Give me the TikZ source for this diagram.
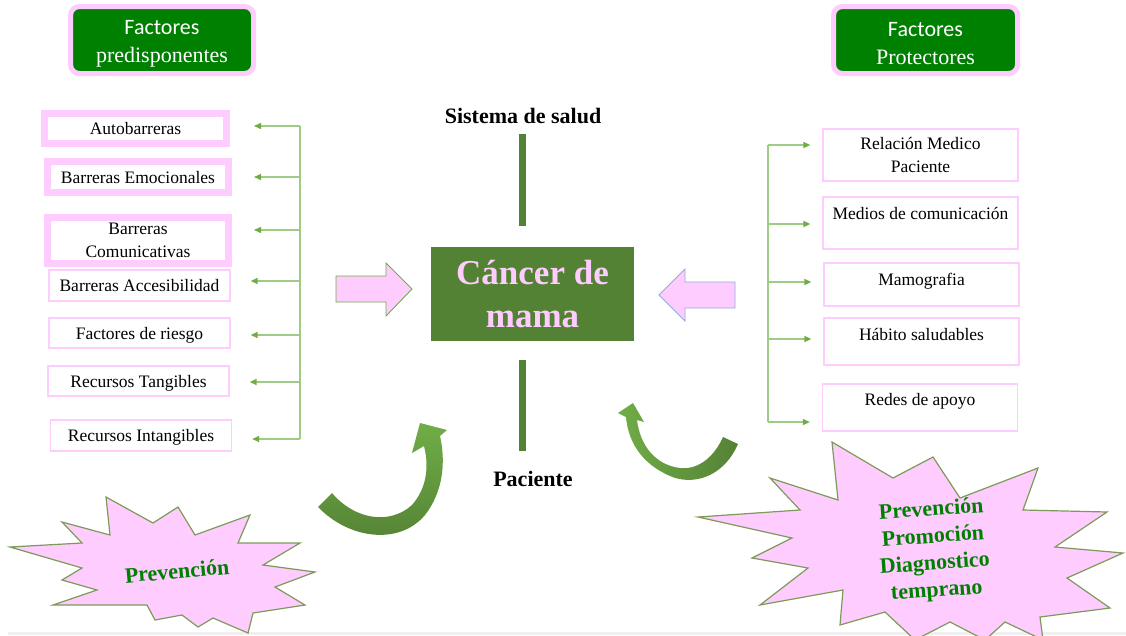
\documentclass[tikz,border=0pt]{standalone}
\usepackage{fontspec}
\setmainfont{Liberation Serif}
\newfontfamily\carlito{Carlito}
\usetikzlibrary{arrows.meta}
\definecolor{pinkb}{HTML}{FFCCFF}
\definecolor{hdrgreen}{HTML}{008000}
\definecolor{dkgreen}{HTML}{548235}
\definecolor{midgreen}{HTML}{70AD47}
\definecolor{ltgreen}{HTML}{9FCC84}
\definecolor{stargreen}{HTML}{7E9A5A}
\definecolor{txtgreen}{HTML}{008000}
\definecolor{bluish}{HTML}{8FAADC}
\begin{document}
\begin{tikzpicture}[x=1pt,y=-1pt,
  hdr/.style={draw=pinkb, line width=5pt, fill=hdrgreen, rounded corners=9pt,
    minimum height=67pt, text=white, align=center, inner sep=0pt,
    font=\fontsize{22}{28}\selectfont},
  boxfont/.style={font=\fontsize{17.5}{23}\selectfont},
  thickbox/.style={boxfont, draw=pinkb, line width=7pt, fill=white, minimum width=181pt,
    inner sep=0pt, align=center},
  thinbox/.style={boxfont, draw=pinkb, line width=1.3pt, fill=white, minimum width=181pt,
    minimum height=30pt, inner sep=0pt, text height=12pt, text depth=0pt},
  rbox/.style={boxfont, draw=pinkb, line width=1.3pt, fill=white, minimum width=195pt,
    inner sep=0pt, text height=12pt},
  trunk/.style={draw=ltgreen, line width=1.4pt},
  harrow/.style={draw=ltgreen, line width=1.4pt, -{Triangle[length=7pt,width=6pt,color=midgreen]}},
  bold22/.style={font=\fontsize{22}{27}\selectfont\bfseries},
  starbody/.style={fill=pinkb, draw=stargreen, line width=1.2pt, line join=miter},
  startext/.style={text=txtgreen, font=\fontsize{22}{27}\selectfont\bfseries, align=center},
  blockarrow/.style={fill=pinkb, line width=0.9pt},
  bar/.style={fill=dkgreen}
]
\clip (0,0) rectangle (1126,635);
\fill[white] (0,0) rectangle (1126,635);
\fill[gray!12] (8,632) rectangle (1126,635);

% headers
\node[hdr, minimum width=183pt] (h1) at (162,40) {{\carlito Factores}\rule{0pt}{21pt}\\predisponentes};
\node[hdr, minimum width=184pt] (h2) at (925.5,40) {{\carlito Factores}\rule{0pt}{21pt}\\Protectores};

% left boxes
\node[thickbox, minimum width=182pt, minimum height=30pt, text height=12pt, text depth=0pt] (b1) at (135.5,128.5) {Autobarreras};
\node[thickbox, minimum height=31pt, text height=12pt, text depth=0pt] (b2) at (138,177) {Barreras Emocionales};
\node[thickbox, minimum height=46pt] (b3) at (138,240) {Barreras\\Comunicativas};
\node[thinbox, minimum height=31pt] (b4) at (139.5,285.5) {Barreras Accesibilidad};
\node[thinbox] (b5) at (139.5,333) {Factores de riesgo};
\node[thinbox] (b6) at (138.5,381) {Recursos Tangibles};
\node[thinbox, minimum height=31pt] (b7) at (141,435.5) {Recursos Intangibles};

% left bracket
\coordinate (lt1) at (300,126);
\coordinate (lt2) at (300,177);
\coordinate (lt3) at (300,230);
\coordinate (lt4) at (300,281);
\coordinate (lt5) at (300,335);
\coordinate (lt6) at (300,382);
\coordinate (lt7) at (300,439);
\draw[trunk] (lt1) -- (lt7);
\draw[harrow, shorten >=24pt] (lt1) -- (lt1 -| b1.east);
\draw[harrow, shorten >=22pt] (lt2) -- (lt2 -| b2.east);
\draw[harrow, shorten >=22pt] (lt3) -- (lt3 -| b3.east);
\foreach \i in {4,5,6,7} {\draw[harrow, shorten >=20pt] (lt\i) -- (lt\i -| b\i.east);}

% right boxes
\node[rbox, minimum height=52pt, align=center, text height=] (r1) at (920.5,155) {Relación Medico\\Paciente};
\node[rbox, minimum height=52pt, text depth=20pt] (r2) at (920.5,223) {Medios de comunicación};
\node[rbox, minimum height=43pt, text depth=11pt] (r3) at (921.5,284.5) {Mamografia};
\node[rbox, minimum height=47pt, text depth=15pt] (r4) at (921.5,341.5) {Hábito saludables};
\node[rbox, minimum height=47pt, text depth=17pt] (r5) at (920,407.5) {Redes de apoyo};

% right bracket
\coordinate (rt1) at (768,145);
\coordinate (rt2) at (768,224);
\coordinate (rt3) at (768,282);
\coordinate (rt4) at (768,339);
\coordinate (rt5) at (768,422);
\draw[trunk] (rt1) -- (rt5);
\foreach \i in {1,...,5} {\draw[harrow, shorten >=12pt] (rt\i) -- (rt\i -| r\i.west);}

% centre
\node[bold22] (sis) at (523,116) {Sistema de salud};
\node[bold22] (pac) at (533,479) {Paciente};
\node[fill=dkgreen, minimum width=203pt, minimum height=94pt, inner sep=0pt,
  text=pinkb, align=center, font=\fontsize{35}{43}\selectfont\bfseries] (cm) at (532.5,294) {Cáncer de\\mama};
\fill[bar] (519,134) rectangle (526,226);
\fill[bar] (519,360) rectangle (526,451);

% block arrows
\draw[blockarrow, draw=midgreen] (336,276) -- (386,276) -- (386,263) -- (412,289)
  -- (386,316) -- (386,302) -- (336,302) -- cycle;
\draw[blockarrow, draw=bluish] (735,282) -- (685,282) -- (685,269) -- (659,295)
  -- (685,321) -- (685,308) -- (735,308) -- cycle;

% curved arrows
\shade[top color=midgreen, bottom color=dkgreen]
  (318,507) .. controls (350,540) and (400,545) .. (425,515)
  .. controls (443,492) and (446,462) .. (440,436)
  -- (447,430) -- (420,423) -- (412,453) -- (424,446)
  .. controls (430,470) and (425,490) .. (412,505)
  .. controls (390,525) and (355,520) .. (332,493) -- cycle;
\shade[left color=midgreen, right color=dkgreen]
  (738,444) .. controls (722,480) and (690,485) .. (670,476)
  .. controls (640,463) and (628,440) .. (626,417)
  -- (618,413) -- (633,403) -- (644,422) -- (637,420)
  .. controls (640,445) and (655,465) .. (680,468)
  .. controls (700,470) and (715,455) .. (723,437) -- cycle;

% starbursts
\draw[starbody] (10,547) -- (82,543) -- (62,522) -- (110,535) -- (106,497) -- (153,523)
  -- (178,507) -- (195,535) -- (250,515) -- (238,543) -- (300,543) -- (263,565)
  -- (315,572) -- (275,587) -- (305,605) -- (253,613) -- (248,633) -- (213,618)
  -- (198,627) -- (182,615) -- (155,620) -- (147,605) -- (53,605) -- (97,590)
  -- (62,580) -- (82,568) -- cycle;
\node[startext, rotate=5] (p1) at (177,571) {Prevención};

\draw[starbody] (698,517) -- (800,510) -- (770,478) -- (838,500) -- (832,442) -- (893,478)
  -- (933,457) -- (960,498) -- (1038,468) -- (1023,510) -- (1107,512) -- (1055,547)
  -- (1123,553) -- (1067,578) -- (1110,608) -- (1040,617) -- (1043,640) -- (1005,622)
  -- (985,640) -- (950,622) -- (915,640) -- (885,612) -- (840,625) -- (843,590)
  -- (760,605) -- (808,568) -- (752,558) -- (792,538) -- cycle;
\node[startext, rotate=4] (p2) at (934,551) {Prevención\\Promoción\\Diagnostico\\temprano};
\end{tikzpicture}
\end{document}
